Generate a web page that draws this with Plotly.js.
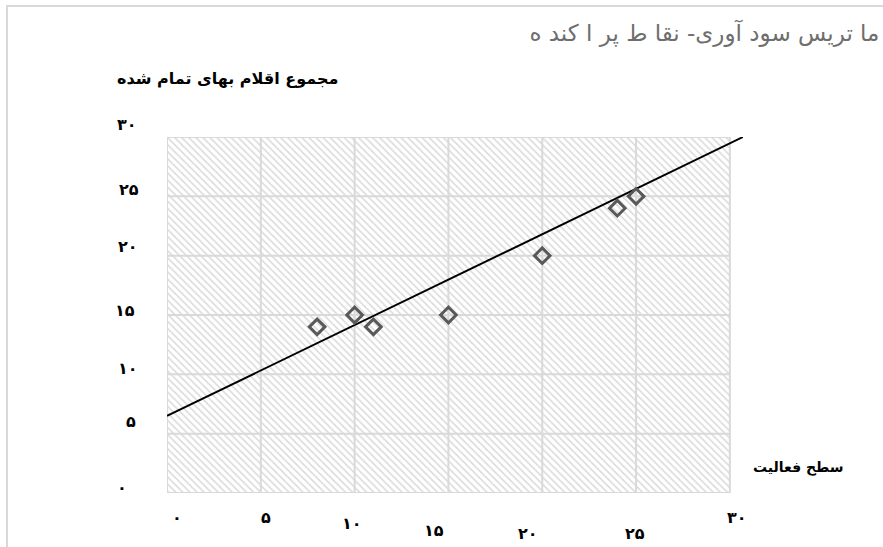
<!DOCTYPE html>
<html>
<head>
<meta charset="utf-8">
<script src="https://cdn.plot.ly/plotly-3.0.1.min.js"></script>
<style>
  html, body { margin: 0; padding: 0; background: #fff; overflow: hidden; }
  #chart { width: 883px; height: 547px; }
  #frame { position: absolute; left: 6px; top: 5px; width: 1000px; height: 1000px;
           border-top: 2px solid #d9d9d9; border-left: 2px solid #d9d9d9; pointer-events: none; }
</style>
</head>
<body>
<div id="chart"></div>
<div id="frame"></div>
<script>
// ---- data ----
const activityLevel = [8, 10, 11, 15, 20, 24, 25];      // سطح فعالیت
const totalCost     = [14, 15, 14, 15, 20, 24, 25];     // مجموع اقلام بهای تمام شده
const trendX = [0, 30.7];
const trendY = [6.5, 30];
const xTicks = [0, 5, 10, 15, 20, 25, 30];
const yTicks = [0, 5, 10, 15, 20, 25, 30];
const tickText = ['۰', '۵', '۱۰', '۱۵', '۲۰', '۲۵', '۳۰'];
const titleText = 'ما تریس سود آوری- نقا ط پر ا کند ه';
const xTitle = 'سطح فعالیت';
const yTitle = 'مجموع اقلام بهای تمام شده';

// ---- label offsets (pixels), reproducing the reference's staggered labels ----
const xLabelDx = [10, 5, -3, -14, -14, -1, 7];
const xLabelDy = [-24, -24, -30, -37, -40, -40, -24];
const yLabelDx = [-45, -36, -39, -42, -39, -38, -40];
const yLabelDy = [6, 12, 6, 5, 9, 7, 13];

const xMin = xTicks[0], xMax = xTicks[xTicks.length - 1];
const yMin = yTicks[0], yMax = yTicks[yTicks.length - 1];

// hatched background rectangle
const bgTrace = {
  x: [xMin, xMax, xMax, xMin, xMin],
  y: [yMin, yMin, yMax, yMax, yMin],
  mode: 'lines', line: { width: 0 }, fill: 'toself',
  fillcolor: '#ffffff',
  fillpattern: { shape: '\\', fgcolor: '#dadada', bgcolor: '#ffffff', size: 5, solidity: 0.3 },
  hoverinfo: 'skip', showlegend: false
};

// grid lines
const gx = [], gy = [];
xTicks.forEach(v => { gx.push(v, v, null); gy.push(yMin, yMax, null); });
yTicks.forEach(v => { gx.push(xMin, xMax, null); gy.push(v, v, null); });
const gridTrace = {
  x: gx, y: gy, mode: 'lines', line: { color: '#d9d9d9', width: 2 },
  hoverinfo: 'skip', showlegend: false, connectgaps: false
};

const trendTrace = {
  x: trendX, y: trendY, mode: 'lines', line: { color: '#000000', width: 2 },
  hoverinfo: 'skip', showlegend: false
};

const pointsTrace = {
  x: activityLevel, y: totalCost, mode: 'markers',
  marker: { symbol: 'diamond-open', size: 12, color: '#595959', line: { width: 3, color: '#595959' } },
  showlegend: false, cliponaxis: false
};

const labelFont = { family: 'DejaVu Sans', size: 16, color: '#000000', weight: 'bold' };
const annotations = [];
xTicks.forEach((v, i) => annotations.push({
  x: v, y: 0, xref: 'x', yref: 'paper', text: '<b>' + tickText[i] + '</b>',
  showarrow: false, xanchor: 'center', yanchor: 'middle',
  xshift: xLabelDx[i], yshift: xLabelDy[i], font: labelFont
}));
yTicks.forEach((v, i) => annotations.push({
  x: 0, y: v, xref: 'x', yref: 'y', text: '<b>' + tickText[i] + '</b>',
  showarrow: false, xanchor: 'center', yanchor: 'middle',
  xshift: yLabelDx[i], yshift: yLabelDy[i], font: labelFont
}));
annotations.push({
  x: 0.3003, y: 1.1657, xref: 'paper', yref: 'paper', text: '<b>' + yTitle + '</b>',
  showarrow: false, xanchor: 'right', yanchor: 'middle',
  font: { family: 'DejaVu Sans', size: 16, color: '#000000' }
});
annotations.push({
  x: 1.0972, y: 0.073, xref: 'paper', yref: 'paper', text: '<b>' + xTitle + '</b>',
  showarrow: false, xanchor: 'center', yanchor: 'middle',
  font: { family: 'DejaVu Sans', size: 14, color: '#000000' }
});

const layout = {
  width: 883, height: 547,
  margin: { l: 167, r: 140, t: 137, b: 54 },
  paper_bgcolor: '#ffffff', plot_bgcolor: 'rgba(0,0,0,0)',
  title: {
    text: titleText, xref: 'container', yref: 'container',
    x: 0.996, xanchor: 'right', y: 0.94, yanchor: 'middle',
    font: { family: 'DejaVu Sans', size: 23, color: '#6e6e6e' }
  },
  xaxis: { range: [xMin, trendX[1]], showgrid: false, zeroline: false, showticklabels: false, ticks: '', showline: false, fixedrange: true },
  yaxis: { range: [yMin, yMax], showgrid: false, zeroline: false, showticklabels: false, ticks: '', showline: false, fixedrange: true },
  annotations: annotations,
  showlegend: false
};

Plotly.newPlot('chart', [bgTrace, gridTrace, trendTrace, pointsTrace], layout, { displayModeBar: false, staticPlot: true });
</script>
</body>
</html>
